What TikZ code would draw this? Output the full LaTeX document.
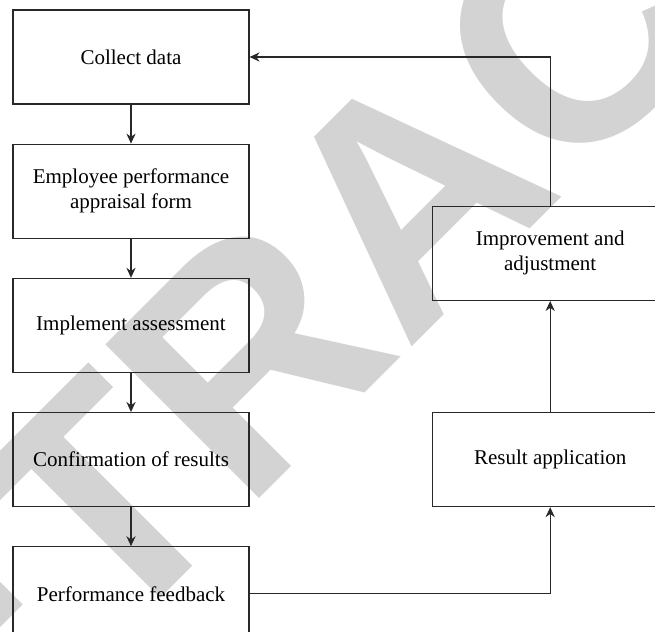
\documentclass[tikz,border=0pt]{standalone}
\usepackage{fontspec}
\setmainfont{Liberation Serif}
\newfontfamily\markfont{Liberation Sans}
\usetikzlibrary{positioning, arrows.meta}
\definecolor{markGray}{RGB}{211,211,211}
\definecolor{lineColor}{RGB}{40,40,40}
\tikzset{
    flowbox/.style={
        rectangle,
        draw=lineColor,
        line width=0.6pt,
        minimum width=118pt,
        minimum height=47pt,
        align=center,
        font=\fontsize{10.5}{12.5}\selectfont
    },
    ptr/.style={
        -{Stealth[length=5pt, width=4.6pt]},
        draw=lineColor,
        line width=0.6pt
    }
}

\begin{document}
\begin{tikzpicture}[x=0.5pt, y=-0.5pt, node distance=19.5pt]
        \path[use as bounding box, clip] (0,0) rectangle (655,632);
        % watermark behind the chart
        \node[rotate=45, text=markGray, inner sep=0pt,
              font=\markfont\bfseries\fontsize{158}{158}\selectfont] (mark) at (410,195) {RETRACTED};

        \node[flowbox] (collect) at (131,57) {Collect data};
        \node[flowbox, below=of collect] (form) {Employee performance\\appraisal form};
        \node[flowbox, below=of form] (implement) {Implement assessment};
        \node[flowbox, below=of implement] (confirm) {Confirmation of results};
        \node[flowbox, below=of confirm] (feedback) {Performance feedback};
        \node[flowbox, right=91pt of confirm] (result) {Result application};
        \node[flowbox, above=55.5pt of result] (improve) {Improvement and\\adjustment};

        \draw[ptr] (collect) -- (form);
        \draw[ptr] (form) -- (implement);
        \draw[ptr] (implement) -- (confirm);
        \draw[ptr] (confirm) -- (feedback);
        \draw[ptr] (feedback.east) -| (result.south);
        \draw[ptr] (result) -- (improve);
        \draw[ptr] (improve.north) |- (collect.east);
    \end{tikzpicture}
\end{document}
